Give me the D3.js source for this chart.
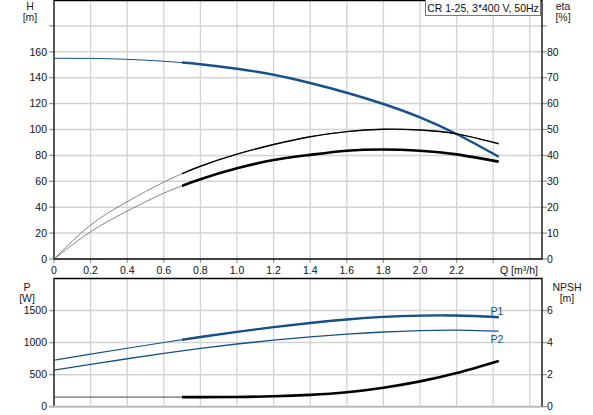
<!DOCTYPE html>
<html><head><meta charset="utf-8">
<script src="https://cdn.jsdelivr.net/npm/d3@7/dist/d3.min.js"></script>
<style>
html,body{margin:0;padding:0;background:#fff;}
svg{display:block;font-family:"Liberation Sans",Arial,sans-serif;}
</style></head>
<body>
<svg id="c" width="593" height="415"></svg>
<script>
// ---- data ----
const flowQ   = [0, 0.2, 0.4, 0.6, 0.8, 1.0, 1.2, 1.4, 1.6, 1.8, 2.0, 2.2, 2.43];
const headH   = [155, 154.9, 154.2, 152.7, 150.4, 146.9, 142.3, 135.9, 128.4, 119.7, 109.4, 96.5, 79];
const etaPump = [0, 13.1, 22.1, 29.7, 35.8, 40.5, 44.2, 47.2, 49.2, 50.1, 49.8, 48.3, 44.5];
const etaTot  = [0, 10.5, 18.5, 25.4, 30.8, 35.0, 38.2, 40.2, 41.8, 42.3, 41.8, 40.4, 37.6];
const powerP1 = [725, 819, 912, 1002, 1088, 1168, 1241, 1306, 1361, 1401, 1421, 1422, 1396];
const powerP2 = [570, 660, 748, 832, 910, 978, 1038, 1090, 1132, 1165, 1187, 1195, 1178];
const npsh    = [0.6, 0.6, 0.6, 0.6, 0.6, 0.61, 0.65, 0.74, 0.9, 1.18, 1.58, 2.1, 2.86];
const qTicks  = [0, 0.2, 0.4, 0.6, 0.8, 1.0, 1.2, 1.4, 1.6, 1.8, 2.0, 2.2];
const qGrid   = [0.2, 0.4, 0.6, 0.8, 1.0, 1.2, 1.4, 1.6, 1.8, 2.0, 2.2, 2.4, 2.6];
const hTicks  = [0, 20, 40, 60, 80, 100, 120, 140, 160];
const etaTicks= [0, 10, 20, 30, 40, 50, 60, 70, 80];
const pTicks  = [0, 500, 1000, 1500];
const npshTicks=[0, 2, 4, 6];
const dutyStart = 0.7;
const title = "CR 1-25, 3*400 V, 50Hz";

const svg = d3.select("#c");
const BLUE = "#16508c";
const GRID = "#d3d3d3";
const L = 54, R = 542;
const x = d3.scaleLinear().domain([0, 2.6667]).range([L, R]);
const yH = d3.scaleLinear().domain([0, 200]).range([259, 0]);
const yE = d3.scaleLinear().domain([0, 100]).range([259, 0]);
const yP = d3.scaleLinear().domain([0, 2000]).range([406.7, 278.5]);
const yN = d3.scaleLinear().domain([0, 8]).range([406.7, 278.5]);

// clip for duty range
const defs = svg.append("defs");
defs.append("clipPath").attr("id","duty").append("rect")
  .attr("x", x(dutyStart)).attr("y", -10).attr("width", R - x(dutyStart) + 20).attr("height", 440);

function grid(yScale, hVals, yTop, yBot){
  const g = svg.append("g");
  g.selectAll(".v").data(qGrid).join("line")
    .attr("x1", d=>x(d)).attr("x2", d=>x(d)).attr("y1", yTop).attr("y2", yBot)
    .attr("stroke", GRID).attr("stroke-width", 1.3);
  g.selectAll(".h").data(hVals).join("line")
    .attr("x1", L).attr("x2", R).attr("y1", d=>yScale(d)).attr("y2", d=>yScale(d))
    .attr("stroke", GRID).attr("stroke-width", 1.5);
}
grid(yH, [20,40,60,80,100,120,140,160,180], 0, 259);
grid(yP, [500,1000,1500], 278.5, 406.7);

// ticks
function yTicksDraw(scale, vals, side, fmt){
  const g = svg.append("g");
  const x0 = side === "l" ? L : R;
  const dx = side === "l" ? -5 : 5;
  g.selectAll("line").data(vals).join("line")
    .attr("x1", x0).attr("x2", x0 + dx).attr("y1", d=>scale(d)).attr("y2", d=>scale(d))
    .attr("stroke", "#999").attr("stroke-width", 1.3);
  g.selectAll("text").data(vals).join("text")
    .attr("x", side === "l" ? L - 7 : R + 5)
    .attr("y", d=>scale(d)).attr("dy", "0.36em")
    .attr("text-anchor", side === "l" ? "end" : "start")
    .attr("font-size", 10.5).attr("fill", "#111")
    .text(fmt);
}
yTicksDraw(yH, hTicks, "l", d=>d);
yTicksDraw(yE, etaTicks, "r", d=>d);
svg.append("line").attr("x1",L).attr("x2",L-5).attr("y1",yH(180)).attr("y2",yH(180)).attr("stroke","#999").attr("stroke-width",1.3);
svg.append("line").attr("x1",R).attr("x2",R+5).attr("y1",yE(90)).attr("y2",yE(90)).attr("stroke","#999").attr("stroke-width",1.3);
yTicksDraw(yP, pTicks, "l", d=>d);
yTicksDraw(yN, npshTicks, "r", d=>d);

// x ticks and labels
svg.append("g").selectAll("line").data(qTicks.concat([2.4])).join("line")
  .attr("x1", d=>x(d)).attr("x2", d=>x(d)).attr("y1", 259).attr("y2", 263)
  .attr("stroke", "#999").attr("stroke-width", 1.2);
svg.append("g").selectAll("text").data(qTicks).join("text")
  .attr("x", d=>x(d)).attr("y", 270).attr("dy","0.36em").attr("text-anchor","middle")
  .attr("font-size", 10.5).attr("fill","#111")
  .text(d=> d === 0 ? "0" : d3.format(".1f")(d));
svg.append("text").attr("x", 519).attr("y", 270).attr("dy","0.36em").attr("text-anchor","middle")
  .attr("font-size", 10.5).attr("fill","#111").text("Q [m³/h]");

// unit labels
function unit(xc, y1, t1, t2){
  svg.append("text").attr("x", xc).attr("y", y1).attr("text-anchor","middle").attr("font-size",10.5).attr("fill","#222").text(t1);
  svg.append("text").attr("x", xc).attr("y", y1 + 11).attr("text-anchor","middle").attr("font-size",10.5).attr("fill","#222").text(t2);
}
unit(30, 9.5, "H", "[m]");
unit(563, 9.5, "eta", "[%]");
unit(27, 291, "P", "[W]");
unit(567, 291, "NPSH", "[m]");

// frames
svg.append("path").attr("d", `M${L},259 L${L},0.5 L${R},0.5 L${R},259 Z`).attr("fill","none").attr("stroke","#000").attr("stroke-width",1.3);
svg.append("path").attr("d", `M${L},406.7 L${L},278.5 L${R},278.5 L${R},406.7`).attr("fill","none").attr("stroke","#000").attr("stroke-width",1.3);
svg.append("line").attr("x1", L-3).attr("x2", R).attr("y1", 406.7).attr("y2", 406.7).attr("stroke","#bbb").attr("stroke-width",2);

// curves
function curve(vals, yScale, color, thinW, thickW, thinColor){
  const line = d3.line().x((d,i)=>x(flowQ[i])).y(d=>yScale(d)).curve(d3.curveNatural);
  svg.append("path").attr("d", line(vals)).attr("fill","none").attr("stroke", thinColor || color).attr("stroke-width", thinW);
  if (thickW) svg.append("path").attr("d", line(vals)).attr("fill","none").attr("stroke", color)
     .attr("stroke-width", thickW).attr("clip-path","url(#duty)");
}
curve(headH, yH, BLUE, 1, 2.4);
curve(etaPump, yE, "#000", 0.8, 1.4, "#666");
curve(etaTot, yE, "#000", 0.8, 2.6, "#666");
curve(powerP1, yP, BLUE, 1.2, 2.4);
curve(powerP2, yP, BLUE, 1.3, 0);
curve(npsh, yN, "#000", 1, 2.6, "#444");

svg.append("text").attr("x", 497).attr("y", 311).attr("dy","0.36em").attr("text-anchor","middle").attr("font-size",10.5).attr("fill",BLUE).text("P1");
svg.append("text").attr("x", 497).attr("y", 339).attr("dy","0.36em").attr("text-anchor","middle").attr("font-size",10.5).attr("fill",BLUE).text("P2");

// title box
svg.append("rect").attr("x", 425.5).attr("y", -1).attr("width", 115).attr("height", 16.5)
  .attr("fill","#fff").attr("stroke","#777").attr("stroke-width",1);
svg.append("text").attr("x", 483).attr("y", 8).attr("dy","0.36em").attr("text-anchor","middle")
  .attr("font-size",10.5).attr("fill","#111").text(title);
</script>
</body></html>
